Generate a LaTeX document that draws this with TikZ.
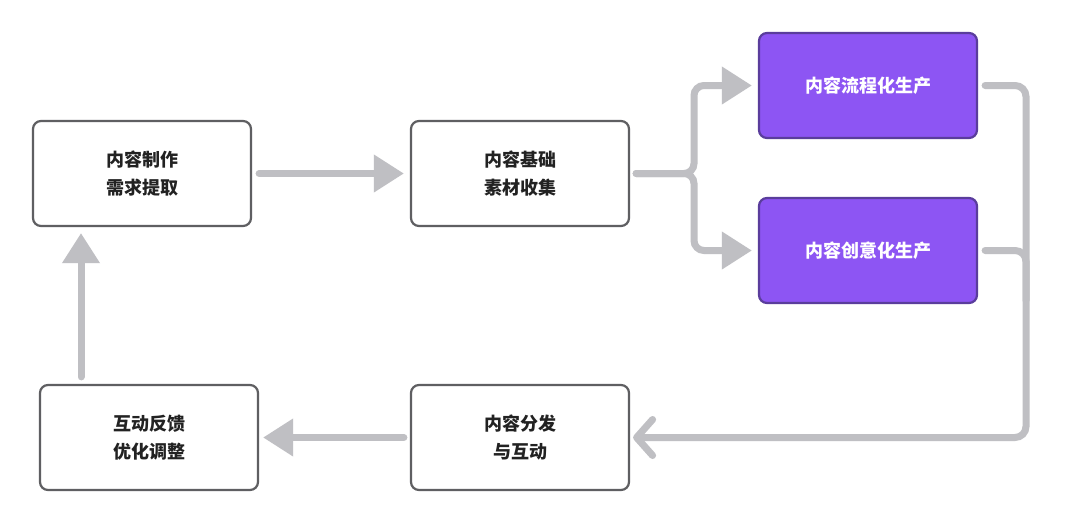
\documentclass[tikz,border=0pt]{standalone}
\usepackage{fontspec}
\setmainfont{Noto Sans CJK SC}
\usetikzlibrary{arrows.meta,calc}
\definecolor{boxline}{HTML}{5F5F62}
\definecolor{txt}{HTML}{222222}
\definecolor{arrcol}{HTML}{BFBFC3}
\definecolor{purplefill}{HTML}{8D55F3}
\definecolor{purpleline}{HTML}{5A3D9C}
\begin{document}
\begin{tikzpicture}[x=1pt,y=-1pt,
  box/.style={draw=boxline,line width=2.2pt,rounded corners=8pt,fill=white,
    minimum width=218pt,minimum height=105pt,inner sep=0pt,align=center,
    text=txt,font=\fontsize{18pt}{28pt}\selectfont\bfseries},
  pbox/.style={box,draw=purpleline,fill=purplefill,text=white},
  arr/.style={draw=arrcol,line width=7pt,line cap=round,
    -{Triangle[length=30pt,width=36pt]}},
  link/.style={draw=arrcol,line width=7pt,line cap=round,rounded corners=11pt},
  barb/.style={draw=arrcol,line width=7pt,line cap=round,rounded corners=11pt,
    -{Straight Barb[length=16pt,width=36pt,round]}}]
\useasboundingbox (0,0) rectangle (1080,523);
\fill[white] (0,0) rectangle (1080,523);
\node[box]  (A) at (142,173.5) {内容制作\\需求提取};
\node[box]  (B) at (520,173.5) {内容基础\\素材收集};
\node[pbox] (C) at (868,85.5)  {内容流程化生产};
\node[pbox] (D) at (868,250.5) {内容创意化生产};
\node[box]  (E) at (520,437.5) {内容分发\\与互动};
\node[box]  (F) at (149,437.5) {互动反馈\\优化调整};
\coordinate (split) at (694,173.5);
\coordinate (rt) at (1026,0);
\coordinate (fa) at (81,0);
% A -> B
\draw[arr,shorten <=7pt,shorten >=6pt] (A.east) -- (B.west);
% B -> C, D
\draw[arr,rounded corners=10pt,shorten <=6pt,shorten >=6pt] (B.east) -- (split) |- (C.west);
\draw[arr,rounded corners=10pt,shorten <=6pt,shorten >=6pt] (B.east) -- (split) |- (D.west);
% C, D -> E
\draw[barb,shorten <=7pt,shorten >=3pt] (C.east) -| (rt |- E.east) -- (E.east);
\draw[link,shorten <=7pt] (D.east) -| ($(rt |- D.east)+(0,50)$);
% E -> F
\draw[arr,shorten <=6pt,shorten >=4pt] (E.west) -- (F.east);
% F -> A
\draw[arr,shorten <=7pt,shorten >=6pt] (F.north -| fa) -- (A.south -| fa);
\end{tikzpicture}
\end{document}
